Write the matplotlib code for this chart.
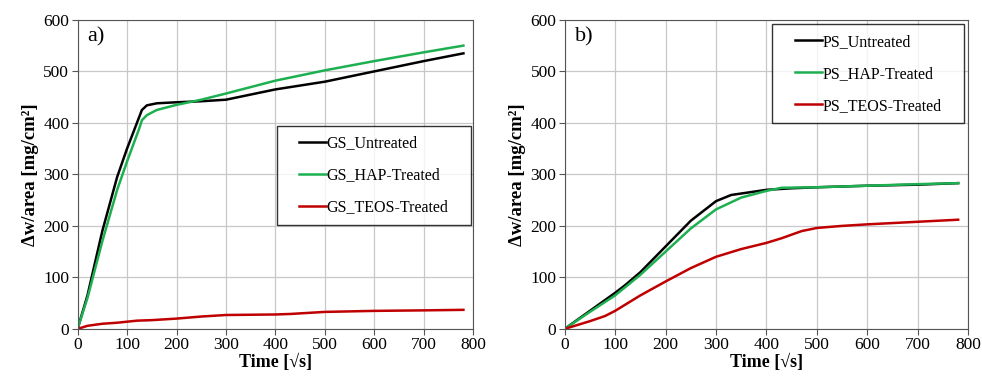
import numpy as np
import matplotlib
matplotlib.use('Agg')
import matplotlib.pyplot as plt
from matplotlib.path import Path

plt.rcParams['font.family'] = ['Liberation Serif', 'DejaVu Serif']

# GS curves (panel a)
gs_unt_t = [0, 20, 50, 80, 100, 120, 130, 140, 160, 200, 250, 300, 350, 400, 500, 600, 700, 780]
gs_unt_y = [0, 65, 190, 295, 350, 400, 425, 434, 438, 440, 442, 445, 455, 465, 480, 500, 520, 535]
gs_hap_t = [0, 20, 50, 80, 100, 125, 130, 140, 160, 200, 250, 300, 400, 500, 600, 700, 780]
gs_hap_y = [0, 60, 170, 270, 325, 390, 405, 415, 425, 435, 445, 457, 482, 502, 520, 537, 550]
gs_teos_t = [0, 20, 50, 80, 100, 120, 150, 200, 250, 300, 400, 430, 500, 600, 700, 780]
gs_teos_y = [0, 6, 10, 12, 14, 16, 17, 20, 24, 27, 28, 29, 33, 35, 36, 37]

# PS curves (panel b)
ps_unt_t = [0, 50, 100, 120, 150, 200, 250, 300, 330, 400, 450, 500, 600, 700, 780]
ps_unt_y = [0, 35, 70, 85, 110, 160, 210, 248, 260, 270, 273, 275, 278, 280, 283]
ps_hap_t = [0, 50, 100, 150, 200, 250, 300, 350, 400, 430, 500, 600, 700, 780]
ps_hap_y = [0, 33, 65, 105, 150, 195, 232, 255, 268, 274, 275, 278, 281, 283]
ps_teos_t = [0, 50, 80, 100, 150, 200, 250, 300, 350, 400, 430, 470, 500, 550, 600, 700, 780]
ps_teos_y = [0, 15, 25, 35, 65, 92, 118, 140, 155, 167, 176, 190, 196, 200, 203, 208, 212]

col_unt = 'black'
col_hap = '#1db050'
col_teos = '#c00000'


# legend frame with extra padding only left and right
def wide_box(x0, y0, width, height, mutation_size):
    p = 0.8 * mutation_size
    x1, y1 = x0 + width + p, y0 + height
    x0 = x0 - p
    return Path([(x0, y0), (x1, y0), (x1, y1), (x0, y1), (x0, y0)], closed=True)


fig = plt.figure(figsize=(9.82, 3.82), dpi=100)
ax1 = fig.add_axes([0.079, 0.139, 0.403, 0.809])
ax2 = fig.add_axes([0.575, 0.139, 0.411, 0.809])

panels = [
    (ax1, 'a)', 'GS', (gs_unt_t, gs_unt_y), (gs_hap_t, gs_hap_y), (gs_teos_t, gs_teos_y),
     dict(loc='upper right', bbox_to_anchor=(0.962, 0.657))),
    (ax2, 'b)', 'PS', (ps_unt_t, ps_unt_y), (ps_hap_t, ps_hap_y), (ps_teos_t, ps_teos_y),
     dict(loc='upper right', bbox_to_anchor=(0.958, 0.986))),
]

for ax, tag, pre, unt, hap, teos, legkw in panels:
    ax.plot(unt[0], unt[1], color=col_unt, lw=1.8, label=pre + '_Untreated')
    ax.plot(hap[0], hap[1], color=col_hap, lw=1.8, label=pre + '_HAP-Treated')
    ax.plot(teos[0], teos[1], color=col_teos, lw=1.8, label=pre + '_TEOS-Treated')
    ax.set_xlim(0, 800)
    ax.set_ylim(0, 600)
    ax.set_xticks(np.arange(0, 801, 100))
    ax.set_yticks(np.arange(0, 601, 100))
    ax.grid(True, color='#c8c8c8', lw=0.9)
    ax.set_axisbelow(True)
    for s in ax.spines.values():
        s.set_color('#555555')
    ax.tick_params(labelsize=12.5, color='#555555', length=4, pad=2)
    ax.set_xlabel('Time [√s]', fontsize=13, fontweight='bold', labelpad=0)
    ax.set_ylabel('Δw/area [mg/cm²]', fontsize=13.5, fontweight='bold', labelpad=3)
    ax.text(0.025, 0.975, tag, transform=ax.transAxes, fontsize=16, va='top', ha='left')
    leg = ax.legend(fontsize=11.5, frameon=True, fancybox=False, edgecolor='black',
                    handlelength=1.7, handletextpad=0.05, labelspacing=1.0,
                    borderpad=0.6, borderaxespad=0, **legkw)
    leg.get_frame().set_linewidth(1.0)
    leg.get_frame().set_boxstyle(wide_box)

fig.savefig('out.png', dpi=100)
